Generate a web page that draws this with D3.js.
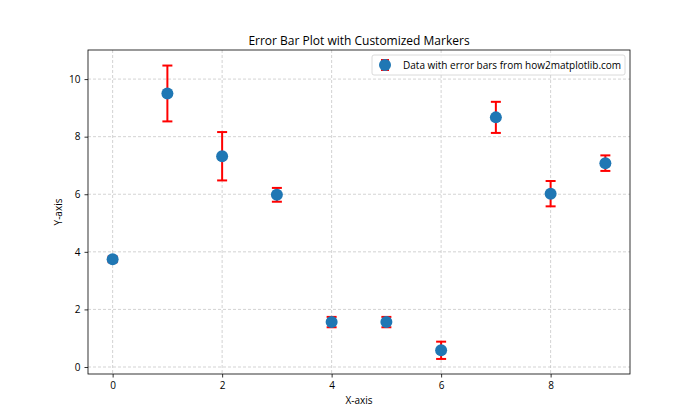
<!DOCTYPE html>
<html>
<head>
<meta charset="utf-8">
<script src="https://cdn.jsdelivr.net/npm/d3@7"></script>
<style>
  body { margin: 0; background: #fff; }
  svg text { font-family: "Open Sans", "DejaVu Sans", sans-serif; fill: #000; }
</style>
</head>
<body>
<div id="chart"></div>
<script>
// data
const xValues = [0, 1, 2, 3, 4, 5, 6, 7, 8, 9];
const yValues = [3.74, 9.50, 7.32, 5.98, 1.56, 1.56, 0.58, 8.67, 6.02, 7.08];
const yErrors = [0.10, 0.97, 0.84, 0.24, 0.18, 0.18, 0.30, 0.54, 0.44, 0.27];
const xTicks = [0, 2, 4, 6, 8];
const yTicks = [0, 2, 4, 6, 8, 10];
const legendLabel = 'Data with error bars from how2matplotlib.com';

const width = 700, height = 420;
const margin = { top: 50, right: 70, bottom: 46, left: 88 };

const svg = d3.select('#chart').append('svg')
    .attr('width', width)
    .attr('height', height);

const x = d3.scaleLinear()
    .domain([-0.45, 9.45])
    .range([margin.left, width - margin.right]);

const y = d3.scaleLinear()
    .domain([-0.243, 11.01])
    .range([height - margin.bottom, margin.top]);

// grid
svg.append('g').selectAll('line')
    .data(xTicks).join('line')
    .attr('x1', d => x(d)).attr('x2', d => x(d))
    .attr('y1', margin.top).attr('y2', height - margin.bottom)
    .attr('stroke', '#b0b0b0').attr('stroke-opacity', 0.7)
    .attr('stroke-width', 0.8).attr('stroke-dasharray', '3,2');

svg.append('g').selectAll('line')
    .data(yTicks).join('line')
    .attr('x1', margin.left).attr('x2', width - margin.right)
    .attr('y1', d => y(d)).attr('y2', d => y(d))
    .attr('stroke', '#b0b0b0').attr('stroke-opacity', 0.7)
    .attr('stroke-width', 0.8).attr('stroke-dasharray', '3,2');

// axes
const xAxis = svg.append('g')
    .attr('transform', `translate(0,${height - margin.bottom})`)
    .call(d3.axisBottom(x).tickValues(xTicks).tickSize(3.5).tickPadding(4));
const yAxis = svg.append('g')
    .attr('transform', `translate(${margin.left},0)`)
    .call(d3.axisLeft(y).tickValues(yTicks).tickSize(3.5).tickPadding(4));

[xAxis, yAxis].forEach(g => {
    g.select('.domain').remove();
    g.selectAll('.tick line').attr('stroke', '#000').attr('stroke-width', 0.8);
    g.selectAll('.tick text').attr('font-size', 10);
});

// frame
svg.append('rect')
    .attr('x', margin.left).attr('y', margin.top)
    .attr('width', width - margin.left - margin.right)
    .attr('height', height - margin.top - margin.bottom)
    .attr('fill', 'none').attr('stroke', '#000').attr('stroke-width', 0.8);

// error bars
const capHalf = 5;
const bars = svg.append('g').selectAll('g')
    .data(xValues).join('g')
    .attr('stroke', 'red').attr('stroke-width', 2);

bars.append('line')
    .attr('x1', (d, i) => x(d)).attr('x2', (d, i) => x(d))
    .attr('y1', (d, i) => y(yValues[i] - yErrors[i]))
    .attr('y2', (d, i) => y(yValues[i] + yErrors[i]));
bars.append('line')
    .attr('x1', (d, i) => x(d) - capHalf).attr('x2', (d, i) => x(d) + capHalf)
    .attr('y1', (d, i) => y(yValues[i] + yErrors[i]))
    .attr('y2', (d, i) => y(yValues[i] + yErrors[i]));
bars.append('line')
    .attr('x1', (d, i) => x(d) - capHalf).attr('x2', (d, i) => x(d) + capHalf)
    .attr('y1', (d, i) => y(yValues[i] - yErrors[i]))
    .attr('y2', (d, i) => y(yValues[i] - yErrors[i]));

// markers
svg.append('g').selectAll('circle')
    .data(xValues).join('circle')
    .attr('cx', d => x(d))
    .attr('cy', (d, i) => y(yValues[i]))
    .attr('r', 6)
    .attr('fill', '#1f77b4');

// legend
const lg = svg.append('g').attr('transform', `translate(${width - margin.right - 258},${margin.top + 5})`);
lg.append('rect')
    .attr('width', 253).attr('height', 20).attr('rx', 2)
    .attr('fill', '#fff').attr('fill-opacity', 0.8)
    .attr('stroke', '#d0d0d0').attr('stroke-width', 0.8);
lg.append('line').attr('x1', 13).attr('x2', 13).attr('y1', 5).attr('y2', 15)
    .attr('stroke', 'red').attr('stroke-width', 2);
lg.append('line').attr('x1', 9).attr('x2', 17).attr('y1', 5).attr('y2', 5)
    .attr('stroke', 'red').attr('stroke-width', 2);
lg.append('line').attr('x1', 9).attr('x2', 17).attr('y1', 15).attr('y2', 15)
    .attr('stroke', 'red').attr('stroke-width', 2);
lg.append('circle').attr('cx', 13).attr('cy', 10).attr('r', 6).attr('fill', '#1f77b4');
lg.append('text').attr('x', 31).attr('y', 14)
    .attr('font-size', 10).text(legendLabel);

// title and labels
svg.append('text')
    .attr('x', (margin.left + width - margin.right) / 2).attr('y', 45)
    .attr('text-anchor', 'middle').attr('font-size', 12)
    .text('Error Bar Plot with Customized Markers');
svg.append('text')
    .attr('x', (margin.left + width - margin.right) / 2).attr('y', 404)
    .attr('text-anchor', 'middle').attr('font-size', 10)
    .text('X-axis');
svg.append('text')
    .attr('transform', `translate(62,${(margin.top + height - margin.bottom) / 2}) rotate(-90)`)
    .attr('text-anchor', 'middle').attr('font-size', 10)
    .text('Y-axis');
</script>
</body>
</html>
